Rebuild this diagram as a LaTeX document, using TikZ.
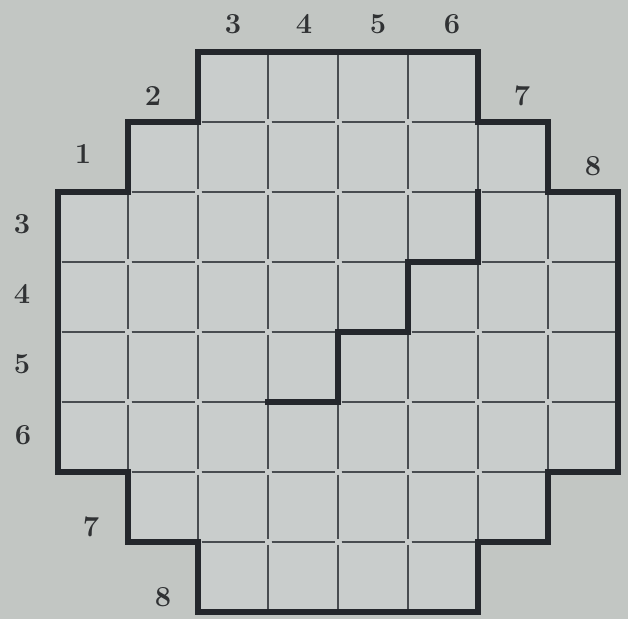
\documentclass[tikz,border=0pt]{standalone}
\definecolor{bgc}{RGB}{194,198,195}
\definecolor{cellc}{RGB}{201,205,204}
\definecolor{thinc}{RGB}{72,76,80}
\definecolor{thickc}{RGB}{36,39,44}
\definecolor{labc}{RGB}{48,50,52}
\tikzset{
  thinline/.style={draw=thinc, line width=2.4pt},
  thickline/.style={draw=thickc, line width=6.5pt, line join=miter, line cap=rect},
  lab/.style={text=labc, font=\fontsize{29}{29}\selectfont\bfseries, inner sep=0pt}
}
\begin{document}
\begin{tikzpicture}[x=1pt,y=-1pt]
\useasboundingbox (0,0) rectangle (628,619);
\fill[bgc] (0,0) rectangle (628,619);
\begin{scope}[shift={(58,52)}, x=70pt, y=-70pt]
  \fill[cellc] (2,0) -- (6,0) -- (6,1) -- (7,1) -- (7,2) -- (8,2) -- (8,6) -- (7,6) -- (7,7) -- (6,7) -- (6,8) -- (2,8) -- (2,7) -- (1,7) -- (1,6) -- (0,6) -- (0,2) -- (1,2) -- (1,1) -- (2,1) -- cycle;
  \foreach \r/\a/\b in {1/3/6,2/2/7,3/1/8,4/1/8,5/1/8,6/1/8,7/2/7,8/3/6}{
    \foreach \c in {\a,...,\b}{
      \draw[thinline] (\c-1,\r-0.96) -- (\c-1,\r-0.04);
      \draw[thinline] (\c,\r-0.96) -- (\c,\r-0.04);
      \draw[thinline] (\c-0.95,\r-1) -- (\c-0.05,\r-1);
      \draw[thinline] (\c-0.95,\r) -- (\c-0.05,\r);
    }
  }
  \draw[thickline] (2,0) -- (6,0) -- (6,1) -- (7,1) -- (7,2) -- (8,2) -- (8,6) -- (7,6) -- (7,7) -- (6,7) -- (6,8) -- (2,8) -- (2,7) -- (1,7) -- (1,6) -- (0,6) -- (0,2) -- (1,2) -- (1,1) -- (2,1) -- cycle;
  \draw[thickline] (6,2) -- (6,3) -- (5,3) -- (5,4) -- (4,4) -- (4,5) -- (3,5);
\end{scope}
\node[lab] (t3) at (233,24) {3};
\node[lab] (t4) at (304,24) {4};
\node[lab] (t5) at (378,24) {5};
\node[lab] (t6) at (452,24) {6};
\node[lab] (t2) at (153,96) {2};
\node[lab] (t7) at (522,96) {7};
\node[lab] (t1) at (83,154) {1};
\node[lab] (t8) at (593,166) {8};
\node[lab] (l3) at (22,224) {3};
\node[lab] (l4) at (22,294) {4};
\node[lab] (l5) at (22,364) {5};
\node[lab] (l6) at (23,435) {6};
\node[lab] (l7) at (91,527) {7};
\node[lab] (l8) at (163,597) {8};
\end{tikzpicture}
\end{document}
